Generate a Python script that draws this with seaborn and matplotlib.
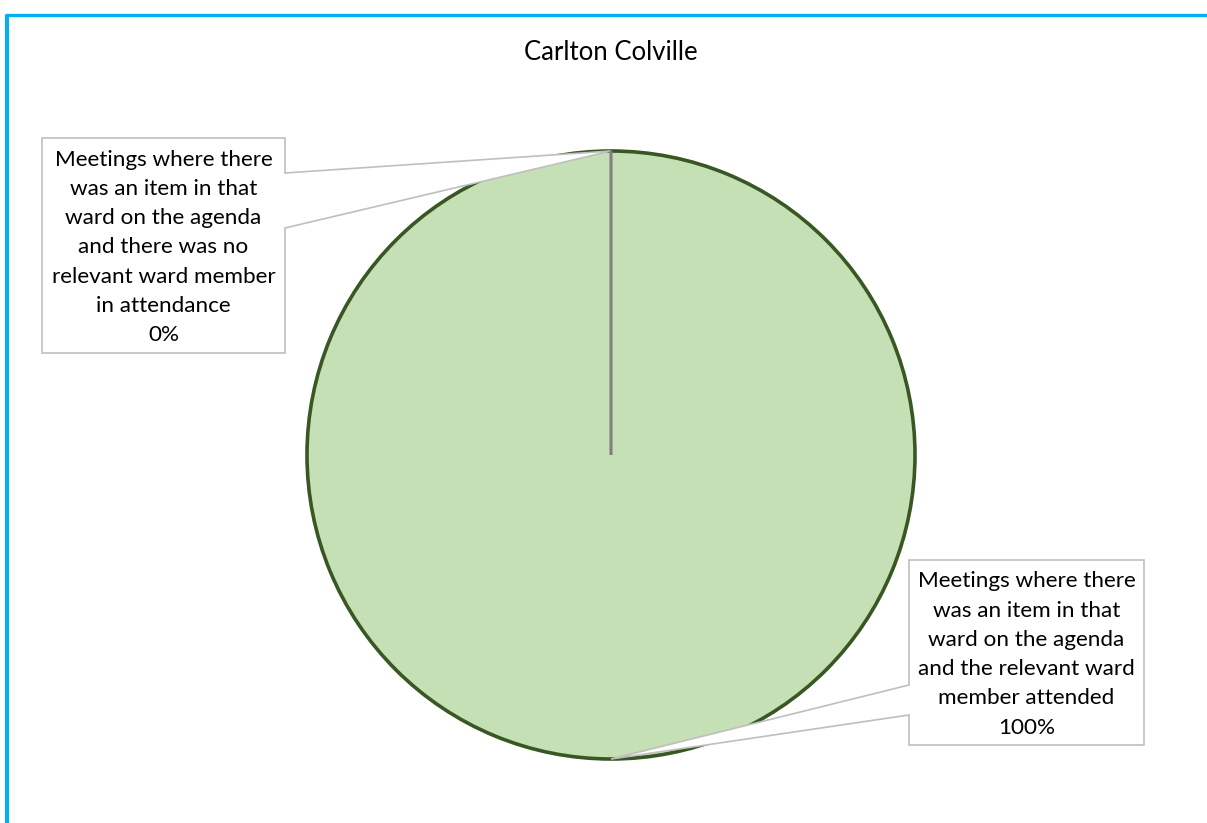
import matplotlib
matplotlib.use("Agg")
import matplotlib.pyplot as plt
import numpy as np
import seaborn as sns
from matplotlib.lines import Line2D
from matplotlib.patches import Polygon

TITLE = "Carlton Colville"
CATEGORIES = [
    "Meetings where there\nwas an item in that\nward on the agenda\nand there was no\nrelevant ward member\nin attendance",
    "Meetings where there\nwas an item in that\nward on the agenda\nand the relevant ward\nmember attended",
]
MEETINGS = [0, 100]  # share of meetings (%)

SLICE_FILL = ["#A5A5A5", "#C5E0B4"]
SLICE_EDGE = ["#7F7F7F", "#385723"]

# layout in pixels
W, H = 1207, 823
CX, CY, R = 611, 455, 304
BOXES = [
    dict(box=(42, 138, 285, 353), side="right", gap=(173, 228)),
    dict(box=(909, 560, 1144, 745), side="left", gap=(685, 715)),
]


def px(x, y):
    """pixel position (from top-left) -> data coords of the pie axes"""
    return ((x - CX) / R, (CY - y) / R)


sns.set_theme(style="white")
plt.rcParams["font.family"] = ["Lato", "DejaVu Sans"]

fig = plt.figure(figsize=(W / 100, H / 100), dpi=100)
ax = fig.add_axes([0, 0, 1, 1])

wedges, _ = ax.pie(MEETINGS, colors=SLICE_FILL, startangle=90, counterclock=False,
                   radius=1, wedgeprops=dict(linewidth=2.6))
for w, ec in zip(wedges, SLICE_EDGE):
    w.set_edgecolor(ec)
wedges[0].set_zorder(4)
wedges[0].set_linewidth(2.2)

ax.set_xlim(-CX / R, (W - CX) / R)
ax.set_ylim(-(H - CY) / R, CY / R)
ax.set_aspect("auto")
ax.axis("off")

total = sum(MEETINGS)
for w, cat, val, spec in zip(wedges, CATEGORIES, MEETINGS, BOXES):
    ang = np.deg2rad((w.theta1 + w.theta2) / 2)
    tip = (w.r * np.cos(ang), w.r * np.sin(ang))
    l, t, r, b = spec["box"]
    g1, g2 = spec["gap"]
    if spec["side"] == "right":
        pts = [px(l, t), px(r, t), px(r, g1), tip, px(r, g2), px(r, b), px(l, b)]
    else:
        pts = [px(l, t), px(r, t), px(r, b), px(l, b), px(l, g2), tip, px(l, g1)]
    ax.add_patch(Polygon(pts, closed=True, facecolor="white", edgecolor="#BFBFBF",
                         linewidth=1.2, zorder=3))
    cx, cy = px((l + r) / 2, (t + b) / 2 + 2)
    ax.text(cx, cy, f"{cat}\n{val / total * 100:.0f}%", ha="center", va="center",
            multialignment="center", fontsize=16.2, linespacing=1.58, color="black", zorder=5)

ax.text(*px(CX, 53), TITLE, ha="center", va="center", fontsize=18.5, color="black")

# chart-area frame (cyan) along the top and left
fig.add_artist(Line2D([6.5 / W, 6.5 / W], [0, 1 - 14.5 / H], transform=fig.transFigure,
                      color="#00B0F0", linewidth=2.9, solid_capstyle="butt"))
fig.add_artist(Line2D([5 / W, 1], [1 - 14.5 / H, 1 - 14.5 / H], transform=fig.transFigure,
                      color="#00B0F0", linewidth=2.4, solid_capstyle="butt"))

fig.savefig("out.png", dpi=100)
